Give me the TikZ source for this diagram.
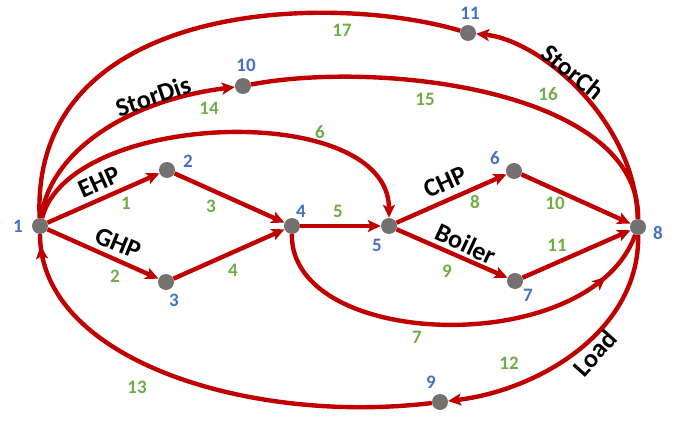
\documentclass[tikz,border=0pt]{standalone}
\usepackage{fontspec}
\setmainfont{Carlito}
\usetikzlibrary{arrows.meta,decorations.markings}
\definecolor{edgered}{HTML}{C00000}
\definecolor{nodegray}{HTML}{767171}
\definecolor{idblue}{HTML}{4472C4}
\definecolor{eidgreen}{HTML}{70AD47}
\begin{document}
\begin{tikzpicture}[x=1pt,y=-1pt,
  vtx/.style={circle,fill=nodegray,minimum size=16pt,inner sep=0pt},
  flow/.style={draw,color=edgered,line width=4.4pt},
  arr/.style={-{Stealth[length=13pt,width=12pt,inset=3pt]}},
  midtip/.style={postaction={decorate},decoration={markings,mark=at position #1 with {\arrow{Stealth[length=13pt,width=12pt,inset=3pt]}}}},
  nid/.style={text=idblue,font=\fontsize{19}{19}\selectfont\bfseries,inner sep=0pt},
  eid/.style={text=eidgreen,font=\fontsize{19}{19}\selectfont\bfseries,inner sep=0pt},
  tech/.style={font=\fontsize{26}{26}\selectfont\bfseries,inner sep=0pt}
]
\useasboundingbox (0,0) rectangle (683,423);
% vertices
\node[vtx] (n1) at (40,226) {};
\node[vtx] (n2) at (167,170) {};
\node[vtx] (n3) at (166,282) {};
\node[vtx] (n4) at (292,226) {};
\node[vtx] (n5) at (389,226) {};
\node[vtx] (n6) at (514,171) {};
\node[vtx] (n7) at (515,281) {};
\node[vtx] (n8) at (638,227) {};
\node[vtx] (n9) at (440,402) {};
\node[vtx] (n10) at (243,86) {};
\node[vtx] (n11) at (468,33) {};
% straight edges
\draw[flow,arr] (n1) -- (n2);
\draw[flow,arr] (n1) -- (n3);
\draw[flow,arr] (n2) -- (n4);
\draw[flow,arr] (n3) -- (n4);
\draw[flow,arr] (n4) -- (n5);
\draw[flow,arr] (n5) -- (n6);
\draw[flow,arr] (n5) -- (n7);
\draw[flow,arr] (n6) -- (n8);
\draw[flow,arr] (n7) -- (n8);
% curved edges
\draw[flow,arr] (n1) .. controls (70,110) and (389,100) .. (n5);
\draw[flow,midtip=0.875] (n4) .. controls (290,350) and (590,360) .. (n8);
\draw[flow,arr] (n8) .. controls (640,330) and (540,390) .. (n9);
\draw[flow,midtip=0.975] (n9) .. controls (250,425) and (40,360) .. (n1);
\draw[flow,arr] (n1) .. controls (50,150) and (130,100) .. (n10);
\draw[flow] (n10) .. controls (380,60) and (640,90) .. (n8);
\draw[flow,arr] (n8) .. controls (635,120) and (540,40) .. (n11);
\draw[flow] (n11) .. controls (330,-8) and (30,0) .. (n1);
% vertex ids
\node[nid] (l1) at (18,226) {1};
\node[nid] (l2) at (188,161) {2};
\node[nid] (l3) at (174,300) {3};
\node[nid] (l4) at (301,211) {4};
\node[nid] (l5) at (377,245) {5};
\node[nid] (l6) at (495,158) {6};
\node[nid] (l7) at (528,295) {7};
\node[nid] (l8) at (658,233) {8};
\node[nid] (l9) at (431,382) {9};
\node[nid] (l10) at (246,65) {10};
\node[nid] (l11) at (470,13) {11};
% edge ids
\node[eid] (e1) at (126,203) {1};
\node[eid] (e2) at (115,276) {2};
\node[eid] (e3) at (211,206) {3};
\node[eid] (e4) at (233,270) {4};
\node[eid] (e5) at (338,211) {5};
\node[eid] (e6) at (320,132) {6};
\node[eid] (e7) at (417,337) {7};
\node[eid] (e8) at (475,202) {8};
\node[eid] (e9) at (447,271) {9};
\node[eid] (e10) at (555,203) {10};
\node[eid] (e11) at (557,245) {11};
\node[eid] (e12) at (509,363) {12};
\node[eid] (e13) at (137,387) {13};
\node[eid] (e14) at (209,108) {14};
\node[eid] (e15) at (425,99) {15};
\node[eid] (e16) at (548,94) {16};
\node[eid] (e17) at (342,30) {17};
% technology labels
\node[tech,rotate=24] (tEHP) at (99,182) {EHP};
\node[tech,rotate=-22] (tGHP) at (118,243) {GHP};
\node[tech,rotate=19] (tSD) at (153,96) {StorDis};
\node[tech,rotate=-39] (tSC) at (573,72) {StorCh};
\node[tech,rotate=24] (tCHP) at (445,182) {CHP};
\node[tech,rotate=-25] (tBoil) at (466,244) {Boiler};
\node[tech,rotate=48] (tLoad) at (595,353) {Load};
\end{tikzpicture}
\end{document}
